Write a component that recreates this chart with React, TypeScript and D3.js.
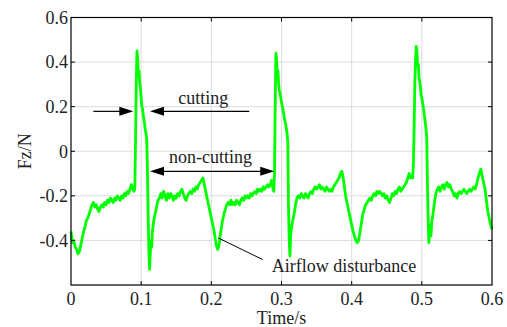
import React from "react";
import * as d3 from "d3";

const W = 507;
const H = 327;

// Time/s
const times: number[] = [
  0.000, 0.002, 0.004, 0.006, 0.008, 0.010, 0.012, 0.014, 0.016, 0.018,
  0.020, 0.022, 0.024, 0.026, 0.028, 0.030, 0.032, 0.034, 0.036, 0.038,
  0.040, 0.042, 0.044, 0.046, 0.048, 0.050, 0.052, 0.054, 0.056, 0.058,
  0.060, 0.062, 0.064, 0.066, 0.068, 0.070, 0.072, 0.074, 0.076, 0.078,
  0.080, 0.082, 0.084, 0.086, 0.088, 0.090, 0.091, 0.092, 0.093, 0.094,
  0.095, 0.096, 0.097, 0.098, 0.099, 0.100, 0.101, 0.102, 0.103, 0.104,
  0.105, 0.106, 0.107, 0.108, 0.109, 0.110, 0.111, 0.112, 0.113, 0.114,
  0.115, 0.116, 0.118, 0.120, 0.122, 0.124, 0.126, 0.128, 0.130, 0.132,
  0.134, 0.136, 0.138, 0.140, 0.142, 0.144, 0.146, 0.148, 0.150, 0.152,
  0.154, 0.156, 0.158, 0.160, 0.162, 0.164, 0.166, 0.168, 0.170, 0.172,
  0.174, 0.176, 0.178, 0.180, 0.182, 0.184, 0.186, 0.188, 0.192, 0.196,
  0.200, 0.204, 0.207, 0.209, 0.211, 0.213, 0.216, 0.219, 0.222,
  0.224, 0.226, 0.228, 0.230, 0.232, 0.234, 0.236, 0.238, 0.240, 0.242,
  0.244, 0.246, 0.248, 0.250, 0.252, 0.254, 0.256, 0.258, 0.260, 0.262,
  0.264, 0.266, 0.268, 0.270, 0.272, 0.274, 0.276, 0.278, 0.280, 0.282,
  0.284, 0.286, 0.288, 0.289, 0.290, 0.291, 0.292, 0.293, 0.294, 0.295,
  0.296, 0.297, 0.298, 0.300, 0.302, 0.304, 0.306, 0.308, 0.309, 0.310,
  0.311, 0.312, 0.313, 0.314, 0.316, 0.318, 0.320, 0.322, 0.324, 0.326,
  0.328, 0.330, 0.332, 0.334, 0.336, 0.338, 0.340, 0.342, 0.344, 0.346,
  0.348, 0.350, 0.352, 0.354, 0.356, 0.358, 0.360, 0.362, 0.364, 0.366,
  0.368, 0.370, 0.372, 0.374, 0.376, 0.378, 0.380, 0.382, 0.384, 0.386,
  0.388, 0.390, 0.392, 0.394, 0.396, 0.398, 0.400, 0.402, 0.404, 0.406,
  0.408, 0.410, 0.412, 0.414, 0.416, 0.418, 0.420, 0.422,
  0.424, 0.426, 0.428, 0.430, 0.432, 0.434, 0.436, 0.438, 0.440, 0.442,
  0.444, 0.446, 0.448, 0.450, 0.452, 0.454, 0.456, 0.458, 0.460, 0.462,
  0.464, 0.466, 0.468, 0.470, 0.472, 0.474, 0.476, 0.478, 0.480, 0.482,
  0.484, 0.486, 0.487, 0.488, 0.489, 0.490, 0.491, 0.492, 0.493, 0.494,
  0.495, 0.496, 0.497, 0.498, 0.499, 0.500, 0.502, 0.504, 0.506, 0.507,
  0.508, 0.509, 0.510, 0.511, 0.512, 0.513, 0.514, 0.516, 0.518, 0.520,
  0.522, 0.524, 0.526, 0.528, 0.530, 0.532, 0.534, 0.536, 0.538, 0.540,
  0.542, 0.544, 0.546, 0.548, 0.550, 0.552, 0.554, 0.556, 0.558, 0.560,
  0.562, 0.564, 0.566, 0.568, 0.570, 0.572, 0.574, 0.576, 0.578, 0.580,
  0.582, 0.584, 0.586, 0.588, 0.590, 0.592, 0.594, 0.596, 0.598, 0.600,
];

// Fz/N
const forces: number[] = [
  -0.36, -0.41, -0.40, -0.43, -0.44, -0.46, -0.45, -0.42, -0.39, -0.36,
  -0.34, -0.31, -0.30, -0.28, -0.26, -0.24, -0.23, -0.25, -0.24, -0.26,
  -0.27, -0.25, -0.24, -0.25, -0.23, -0.24, -0.22, -0.23, -0.21, -0.22,
  -0.23, -0.21, -0.22, -0.20, -0.21, -0.22, -0.20, -0.21, -0.19, -0.20,
  -0.18, -0.19, -0.17, -0.15, -0.17, -0.18, -0.16, 0.05, 0.30, 0.45,
  0.42, 0.34, 0.36, 0.31, 0.28, 0.24, 0.20, 0.19, 0.16, 0.14,
  0.12, 0.09, 0.08, 0.05, -0.10, -0.30, -0.45, -0.53, -0.46, -0.40,
  -0.43, -0.36, -0.31, -0.28, -0.25, -0.22, -0.21, -0.19, -0.21, -0.18,
  -0.20, -0.22, -0.19, -0.21, -0.19, -0.20, -0.22, -0.20, -0.21, -0.19,
  -0.20, -0.18, -0.17, -0.19, -0.21, -0.22, -0.20, -0.19, -0.18, -0.19,
  -0.17, -0.18, -0.16, -0.17, -0.15, -0.14, -0.13, -0.12, -0.18, -0.24,
  -0.30, -0.36, -0.42, -0.44, -0.42, -0.37, -0.31, -0.27, -0.24,
  -0.23, -0.24, -0.22, -0.24, -0.23, -0.24, -0.22, -0.23, -0.24, -0.22,
  -0.21, -0.22, -0.20, -0.21, -0.20, -0.21, -0.19, -0.20, -0.19, -0.18,
  -0.19, -0.17, -0.18, -0.17, -0.18, -0.16, -0.17, -0.16, -0.15, -0.16,
  -0.15, -0.13, -0.17, -0.18, -0.10, 0.20, 0.44, 0.41, 0.34, 0.36,
  0.30, 0.27, 0.26, 0.22, 0.19, 0.15, 0.12, 0.08, 0.04, -0.25,
  -0.40, -0.47, -0.38, -0.35, -0.31, -0.28, -0.24, -0.21, -0.20, -0.21,
  -0.19, -0.20, -0.21, -0.19, -0.20, -0.21, -0.19, -0.18, -0.19, -0.17,
  -0.16, -0.17, -0.16, -0.15, -0.17, -0.16, -0.17, -0.18, -0.16, -0.17,
  -0.18, -0.17, -0.18, -0.16, -0.15, -0.14, -0.13, -0.12, -0.10, -0.09,
  -0.12, -0.17, -0.21, -0.24, -0.27, -0.30, -0.33, -0.36, -0.38, -0.40,
  -0.41, -0.40, -0.36, -0.32, -0.28, -0.26, -0.24, -0.23,
  -0.22, -0.21, -0.22, -0.20, -0.19, -0.20, -0.18, -0.19, -0.18, -0.19,
  -0.20, -0.19, -0.21, -0.20, -0.22, -0.23, -0.21, -0.19, -0.20, -0.18,
  -0.19, -0.17, -0.16, -0.18, -0.17, -0.16, -0.15, -0.14, -0.12, -0.10,
  -0.12, -0.11, -0.12, -0.05, 0.10, 0.30, 0.41, 0.47, 0.45, 0.38,
  0.39, 0.33, 0.31, 0.29, 0.25, 0.24, 0.20, 0.15, 0.10, 0.06,
  -0.15, -0.30, -0.41, -0.37, -0.33, -0.38, -0.32, -0.28, -0.23, -0.19,
  -0.17, -0.16, -0.18, -0.16, -0.15, -0.17, -0.15, -0.14, -0.16, -0.15,
  -0.17, -0.18, -0.20, -0.19, -0.21, -0.19, -0.18, -0.19, -0.18, -0.17,
  -0.18, -0.19, -0.18, -0.17, -0.18, -0.17, -0.16, -0.17, -0.15, -0.12,
  -0.10, -0.08, -0.11, -0.14, -0.17, -0.22, -0.27, -0.30, -0.33, -0.35,
];

const xTicks: number[] = [0, 0.1, 0.2, 0.3, 0.4, 0.5, 0.6];
const yTicks: number[] = [-0.6, -0.4, -0.2, 0, 0.2, 0.4, 0.6];
const yTickLabels: string[] = ["", "-0.4", "-0.2", "0", "0.2", "0.4", "0.6"];
const xTickLabels: string[] = ["0", "0.1", "0.2", "0.3", "0.4", "0.5", "0.6"];

const FONT = "'Liberation Serif', 'Times New Roman', serif";

export default function App() {
  const left = 71, right = 492, top = 17.5, bottom = 285;
  const x = d3.scaleLinear().domain([0, 0.6]).range([left, right]);
  const y = d3.scaleLinear().domain([-0.6, 0.6]).range([bottom, top]);

  const data = times.map((t, i) => [t, forces[i]] as [number, number]);
  const line = d3
    .line<[number, number]>()
    .x((d) => x(d[0]))
    .y((d) => y(d[1]));

  const arrowHead = (tipX: number, tipY: number, dir: number) => {
    const L = 14, hw = 4.5;
    return `M${tipX},${tipY} L${tipX - dir * L},${tipY - hw} L${tipX - dir * L},${tipY + hw} Z`;
  };

  // annotations in data units
  const cutY = y(0.179);
  const cutL0 = x(0.0318), cutL1 = x(0.0888);
  const cutR0 = x(0.1126), cutR1 = x(0.254);
  const ncY = y(-0.09);
  const ncA = x(0.1126), ncB = x(0.2897);

  return (
    <svg
      width={W}
      height={H}
      style={{ position: "absolute", left: 0, top: 0, background: "#fff" }}
      fontFamily={FONT}
    >
      <rect x={0} y={0} width={W} height={H} fill="#fff" />
      {/* grid */}
      {xTicks.slice(1, -1).map((t) => (
        <line key={"gx" + t} x1={x(t)} x2={x(t)} y1={top} y2={bottom} stroke="#dcdcdc" strokeWidth={1} />
      ))}
      {yTicks.slice(1, -1).map((t) => (
        <line key={"gy" + t} x1={left} x2={right} y1={y(t)} y2={y(t)} stroke="#dcdcdc" strokeWidth={1} />
      ))}
      {/* data */}
      <path d={line(data) || ""} fill="none" stroke="#00ff00" strokeWidth={2.8} strokeLinejoin="round" />
      {/* frame */}
      <rect x={left} y={top} width={right - left} height={bottom - top} fill="none" stroke="#000" strokeWidth={1.2} />
      {/* ticks */}
      {xTicks.slice(1, -1).map((t) => (
        <g key={"tx" + t}>
          <line x1={x(t)} x2={x(t)} y1={bottom} y2={bottom - 4} stroke="#000" />
          <line x1={x(t)} x2={x(t)} y1={top} y2={top + 4} stroke="#000" />
        </g>
      ))}
      {yTicks.slice(1, -1).map((t) => (
        <g key={"ty" + t}>
          <line x1={left} x2={left + 4} y1={y(t)} y2={y(t)} stroke="#000" />
          <line x1={right} x2={right - 4} y1={y(t)} y2={y(t)} stroke="#000" />
        </g>
      ))}
      {/* tick labels */}
      {xTicks.map((t, i) => (
        <text key={"lx" + t} x={x(t)} y={305} textAnchor="middle" fontSize={18} fill="#222">
          {xTickLabels[i]}
        </text>
      ))}
      {yTicks.map((t, i) => (
        <text key={"ly" + t} x={68} y={y(t)} dy="0.35em" textAnchor="end" fontSize={18} fill="#222">
          {yTickLabels[i]}
        </text>
      ))}
      {/* axis titles */}
      <text x={(left + right) / 2} y={324} textAnchor="middle" fontSize={18} fill="#222">
        Time/s
      </text>
      <text transform={`translate(31,${y(0)}) rotate(-90)`} textAnchor="middle" fontSize={18} fill="#222">
        Fz/N
      </text>
      {/* cutting arrows */}
      <line x1={cutL0} x2={cutL1 - 10} y1={cutY} y2={cutY} stroke="#000" strokeWidth={1.2} />
      <path d={arrowHead(cutL1, cutY, 1)} fill="#000" />
      <line x1={cutR0 + 10} x2={cutR1} y1={cutY} y2={cutY} stroke="#000" strokeWidth={1.2} />
      <path d={arrowHead(cutR0, cutY, -1)} fill="#000" />
      <text x={x(0.153)} y={y(0.214)} fontSize={18} fill="#222">cutting</text>
      {/* non-cutting arrows */}
      <line x1={ncA + 10} x2={ncB - 10} y1={ncY} y2={ncY} stroke="#000" strokeWidth={1.2} />
      <path d={arrowHead(ncA, ncY, -1)} fill="#000" />
      <path d={arrowHead(ncB, ncY, 1)} fill="#000" />
      <text x={x(0.1397)} y={y(-0.051)} fontSize={18} fill="#222">non-cutting</text>
      {/* airflow */}
      <line x1={x(0.2099)} y1={y(-0.389)} x2={x(0.2732)} y2={y(-0.486)} stroke="#000" strokeWidth={1} />
      <text x={x(0.286)} y={y(-0.541)} fontSize={18} fill="#222">Airflow disturbance</text>
    </svg>
  );
}
